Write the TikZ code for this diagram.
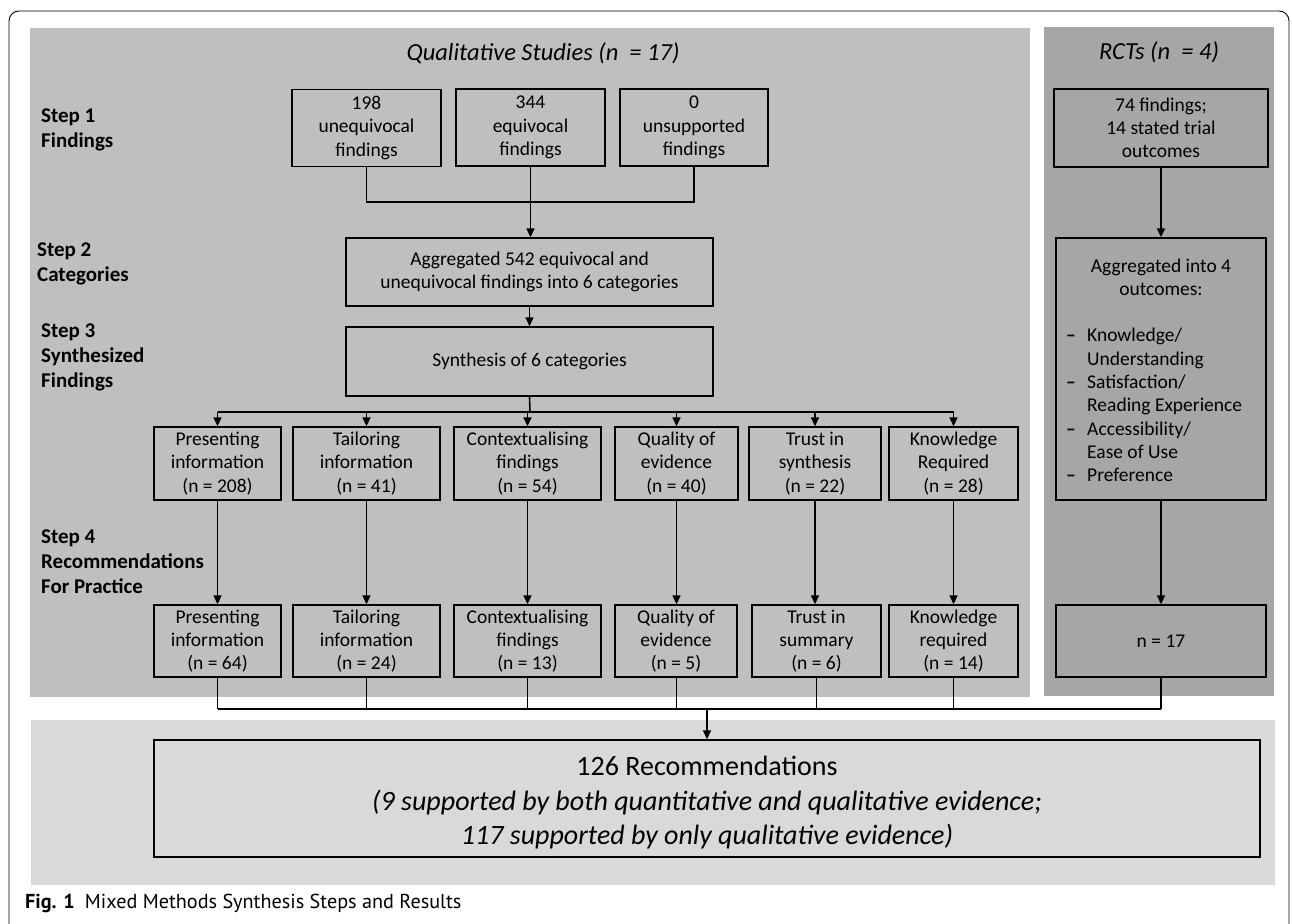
\documentclass[tikz,border=0pt]{standalone}
\usepackage{fontspec}
\setmainfont{Carlito}
\newfontfamily\capfont{PT Sans}
\usetikzlibrary{arrows.meta}
\definecolor{qualgray}{RGB}{191,191,191}
\definecolor{rctgray}{RGB}{166,166,166}
\definecolor{botgray}{RGB}{217,217,217}
\begin{document}
\begin{tikzpicture}[x=1pt,y=-1pt,
  box/.style={draw=black, line width=1.4pt, inner sep=0pt, align=center, font=\fontsize{19.5}{23.3}\selectfont},
  conn/.style={line width=1.6pt},
  arr/.style={conn, -{Triangle[length=9pt,width=8pt]}},
  thinc/.style={line width=0.8pt},
  lbl/.style={anchor=west, align=left, inner sep=0pt, font=\fontsize{21}{25}\selectfont\bfseries},
  ttl/.style={inner sep=0pt, font=\fontsize{24.5}{28}\selectfont\itshape},
  txt/.style={inner sep=0pt, align=center, font=\fontsize{19.5}{23.3}\selectfont},
]
\useasboundingbox (0,0) rectangle (1292,923);
\clip (0,0) rectangle (1292,923);
% outer frame
\draw[line width=0.9pt, rounded corners=10pt] (9,950) -- (9,11) -- (1289,11) -- (1289,950);
% panels
\fill[qualgray] (30,28) rectangle (1030,697);
\fill[rctgray] (1044,27) rectangle (1274,696);
\fill[botgray] (31,720) rectangle (1275,885);
% titles
\node[ttl] (qtitle) at (543,53) {Qualitative Studies (n\ \ = 17)};
\node[ttl] (rtitle) at (1159,52) {RCTs (n\ \ = 4)};
% step labels
\node[lbl] (lab1) at (41,129.5) {Step 1\\Findings};
\node[lbl] (lab2) at (37,263.5) {Step 2\\Categories};
\node[lbl] (lab3) at (41,357.5) {Step 3\\Synthesized\\Findings};
\node[lbl] (lab4) at (41,561.5) {Step 4\\Recommendations\\For Practice};
% step 1
\node[box, minimum width=149pt, minimum height=77pt] (s1a) at (366.5,128) {198\\unequivocal\\findings};
\node[box, minimum width=149pt, minimum height=77pt] (s1b) at (530.5,127.5) {344\\equivocal\\findings};
\node[box, minimum width=148pt, minimum height=77pt] (s1c) at (694,127.5) {0\\unsupported\\findings};
% step 2 / 3
\node[box, minimum width=367pt, minimum height=68pt] (s2) at (529.5,272) {Aggregated 542 equivocal and\\unequivocal findings into 6 categories};
\node[box, minimum width=367pt, minimum height=69pt] (s3) at (529.5,361.5) {Synthesis of 6 categories};
% row 3
\node[box, minimum width=127pt, minimum height=73pt] (r3a) at (217.5,463.5) {Presenting\\information\\(n = 208)};
\node[box, minimum width=147pt, minimum height=73pt] (r3b) at (366.5,463.5) {Tailoring\\information\\(n = 41)};
\node[box, minimum width=147pt, minimum height=73pt] (r3c) at (527.5,463.5) {Contextualising\\findings\\(n = 54)};
\node[box, minimum width=123pt, minimum height=73pt] (r3d) at (676.5,463.5) {Quality of\\evidence\\(n = 40)};
\node[box, minimum width=132pt, minimum height=73pt] (r3e) at (815,463.5) {Trust in\\synthesis\\(n = 22)};
\node[box, minimum width=129pt, minimum height=73pt] (r3f) at (953.5,463.5) {Knowledge\\Required\\(n = 28)};
% row 4
\node[box, minimum width=127pt, minimum height=72pt] (r4a) at (217.5,641) {Presenting\\information\\(n = 64)};
\node[box, minimum width=147pt, minimum height=72pt] (r4b) at (366.5,641) {Tailoring\\information\\(n = 24)};
\node[box, minimum width=147pt, minimum height=72pt] (r4c) at (527.5,641) {Contextualising\\findings\\(n = 13)};
\node[box, minimum width=122pt, minimum height=72pt] (r4d) at (676,641) {Quality of\\evidence\\(n = 5)};
\node[box, minimum width=129pt, minimum height=72pt] (r4e) at (816.5,641) {Trust in\\summary\\(n = 6)};
\node[box, minimum width=129pt, minimum height=72pt] (r4f) at (953.5,641) {Knowledge\\required\\(n = 14)};
% RCT column
\node[box, minimum width=214pt, minimum height=78pt] (q1) at (1161,128) {74 findings;\\14 stated trial\\outcomes};
\node[box, minimum width=210pt, minimum height=262pt] (q2) at (1161,369) {};
\node[txt] (q2head) at (1161,277) {Aggregated into 4\\outcomes:};
\node[txt, anchor=west, align=left] (q2list) at (1066,405) {%
\makebox[21pt][l]{\textbf{–}}Knowledge/\\
\hspace*{21pt}Understanding\\
\makebox[21pt][l]{\textbf{–}}Satisfaction/\\
\hspace*{21pt}Reading Experience\\
\makebox[21pt][l]{\textbf{–}}Accessibility/\\
\hspace*{21pt}Ease of Use\\
\makebox[21pt][l]{\textbf{–}}Preference};
\node[box, minimum width=210pt, minimum height=72pt] (q3) at (1161,641) {n = 17};
% bottom box
\node[box, minimum width=1106pt, minimum height=117pt] (rec) at (707,798.5) {};
\node[txt, font=\fontsize{28}{34.5}\selectfont] (rectext) at (707,803)
  {126 Recommendations\\{\itshape (9 supported by both quantitative and qualitative evidence;}\\{\itshape 117 supported by only qualitative evidence)}};
% caption
\node[anchor=west, inner sep=0pt, font=\capfont\fontsize{20.2}{22}\selectfont] (cap) at (25,903)
  {\textbf{Fig. 1}\hspace{10pt}Mixed Methods Synthesis Steps and Results};
% connectors step 1 -> step 2
\coordinate (j1) at (530,202);
\draw[conn] (s1a.south) |- (j1) -| (s1c.south);
\draw[arr] (s1b.south) -- (s1b.south |- s2.north);
\draw[arr] (s2.south) -- (s3.north);
% bus to row 3
\coordinate (j3) at (530,412);
\draw[conn] (s3.south) -- (j3);
\draw[conn] (r3a.north |- j3) -- (r3f.north |- j3);
\foreach \n in {r3a,r3b,r3c,r3d,r3e,r3f}
  \draw[arr] (\n.north |- j3) -- (\n.north);
% row 3 -> row 4
\draw[arr] (r3a.south) -- (r4a.north);
\draw[arr] (r3b.south) -- (r4b.north);
\draw[arr] (r3c.south) -- (r4c.north);
\draw[arr] (r3d.south) -- (r3d.south |- r4d.north);
\draw[arr] (r3e.south) -- (r3e.south |- r4e.north);
\draw[arr] (r3f.south) -- (r4f.north);
% RCT arrows
\draw[arr] (q1.south) -- (q2.north);
\draw[arr] (q2.south) -- (q3.north);
% bottom bus
\coordinate (j5) at (707,709);
\draw[conn] (r4a.south) -- (r4a.south |- j5);
\draw[conn] (r4b.south) -- (r4b.south |- j5);
\draw[thinc] (r4c.south) -- (r4c.south |- j5);
\draw[thinc] (r4d.south) -- (r4d.south |- j5);
\draw[conn] (r4e.south) -- (r4e.south |- j5);
\draw[thinc] (r4f.south) -- (r4f.south |- j5);
\draw[conn] (q3.south) -- (q3.south |- j5);
\draw[conn] (r4a.south |- j5) -- (q3.south |- j5);
\draw[arr] (j5) -- (rec.north);
\end{tikzpicture}
\end{document}
